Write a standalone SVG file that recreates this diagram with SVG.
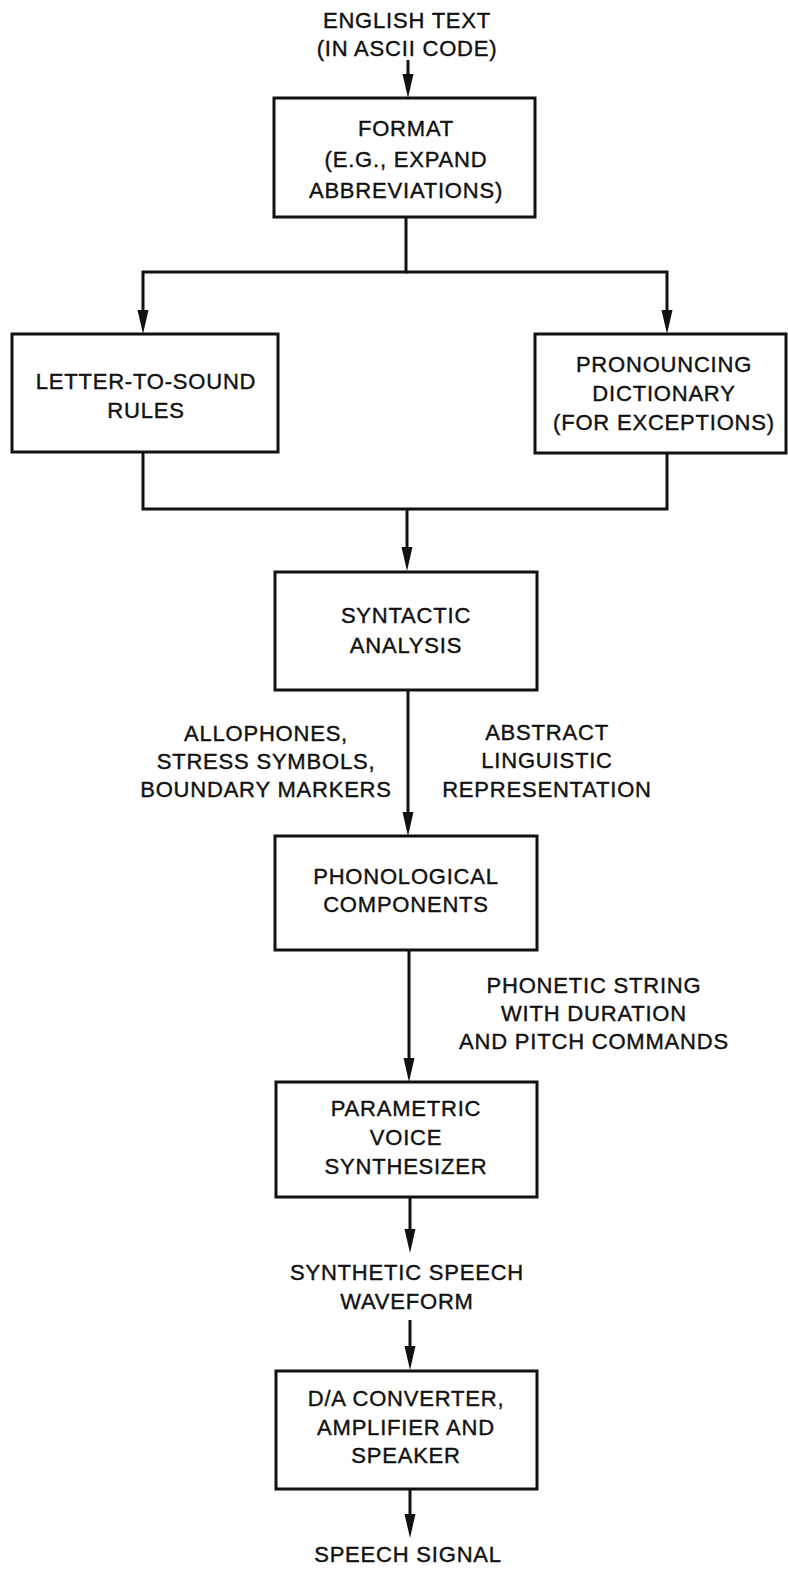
<svg xmlns="http://www.w3.org/2000/svg" width="788" height="1572" viewBox="0 0 788 1572">
  <style>
    .box { fill: #ffffff; stroke: #111111; stroke-width: 3; }
    .wire { fill: none; stroke: #111111; stroke-width: 3; }
    .lbl { font-family: "Liberation Sans", Arial, Helvetica, sans-serif; font-size: 22px; letter-spacing: 0.8px; fill: #111111; stroke: #111111; stroke-width: 0.4px; text-anchor: middle; }
  </style>
  <defs>
    <!-- narrow filled arrowhead; tip sits 14px past the end of the line -->
    <marker id="head" markerUnits="userSpaceOnUse" markerWidth="25" markerHeight="12" viewBox="0 0 25 12" refX="10" refY="6" orient="auto">
      <path d="M0,0.5 L24,6 L0,11.5 z" fill="#111111"/>
    </marker>
  </defs>
  <rect width="788" height="1572" fill="#ffffff"/>

  <!-- input text -->
  <g id="input">
    <text class="lbl" x="407" y="28">ENGLISH TEXT</text>
    <text class="lbl" x="407" y="56">(IN ASCII CODE)</text>
  </g>

  <g id="connectors">
    <path class="wire" d="M408,60 V84" marker-end="url(#head)"/>
    <path class="wire" d="M406,217 V272 H143 V320" marker-end="url(#head)"/>
    <path class="wire" d="M406,272 H667 V320" marker-end="url(#head)"/>
    <path class="wire" d="M143,452 V509 H667 V453"/>
    <path class="wire" d="M407,509 V557" marker-end="url(#head)"/>
    <path class="wire" d="M408,690 V822" marker-end="url(#head)"/>
    <path class="wire" d="M409,950 V1068" marker-end="url(#head)"/>
    <path class="wire" d="M410,1197 V1239" marker-end="url(#head)"/>
    <path class="wire" d="M410,1320 V1356" marker-end="url(#head)"/>
    <path class="wire" d="M410,1489 V1524" marker-end="url(#head)"/>
  </g>

  <g id="format">
    <rect class="box" x="274" y="98" width="261" height="119"/>
    <text class="lbl" x="406" y="136">FORMAT</text>
    <text class="lbl" x="406" y="167">(E.G., EXPAND</text>
    <text class="lbl" x="406" y="198">ABBREVIATIONS)</text>
  </g>

  <g id="letter-to-sound">
    <rect class="box" x="12" y="334" width="266" height="118"/>
    <text class="lbl" x="146" y="389">LETTER-TO-SOUND</text>
    <text class="lbl" x="146" y="418">RULES</text>
  </g>

  <g id="dictionary">
    <rect class="box" x="535" y="334" width="251" height="119"/>
    <text class="lbl" x="664" y="372">PRONOUNCING</text>
    <text class="lbl" x="664" y="401">DICTIONARY</text>
    <text class="lbl" x="664" y="430">(FOR EXCEPTIONS)</text>
  </g>

  <g id="syntactic">
    <rect class="box" x="275" y="572" width="262" height="118"/>
    <text class="lbl" x="406" y="623">SYNTACTIC</text>
    <text class="lbl" x="406" y="653">ANALYSIS</text>
  </g>

  <g id="label-left">
    <text class="lbl" x="266" y="741">ALLOPHONES,</text>
    <text class="lbl" x="266" y="769">STRESS SYMBOLS,</text>
    <text class="lbl" x="266" y="797">BOUNDARY MARKERS</text>
  </g>

  <g id="label-right">
    <text class="lbl" x="547" y="740">ABSTRACT</text>
    <text class="lbl" x="547" y="768">LINGUISTIC</text>
    <text class="lbl" x="547" y="797">REPRESENTATION</text>
  </g>

  <g id="phonological">
    <rect class="box" x="275" y="836" width="262" height="114"/>
    <text class="lbl" x="406" y="884">PHONOLOGICAL</text>
    <text class="lbl" x="406" y="912">COMPONENTS</text>
  </g>

  <g id="label-phonetic">
    <text class="lbl" x="594" y="993">PHONETIC STRING</text>
    <text class="lbl" x="594" y="1021">WITH DURATION</text>
    <text class="lbl" x="594" y="1049">AND PITCH COMMANDS</text>
  </g>

  <g id="synthesizer">
    <rect class="box" x="276" y="1082" width="261" height="115"/>
    <text class="lbl" x="406" y="1116">PARAMETRIC</text>
    <text class="lbl" x="406" y="1145">VOICE</text>
    <text class="lbl" x="406" y="1174">SYNTHESIZER</text>
  </g>

  <g id="waveform">
    <text class="lbl" x="407" y="1280">SYNTHETIC SPEECH</text>
    <text class="lbl" x="407" y="1309">WAVEFORM</text>
  </g>

  <g id="converter">
    <rect class="box" x="276" y="1371" width="261" height="118"/>
    <text class="lbl" x="406" y="1406">D/A CONVERTER,</text>
    <text class="lbl" x="406" y="1435">AMPLIFIER AND</text>
    <text class="lbl" x="406" y="1463">SPEAKER</text>
  </g>

  <g id="output">
    <text class="lbl" x="408" y="1562">SPEECH SIGNAL</text>
  </g>
</svg>
